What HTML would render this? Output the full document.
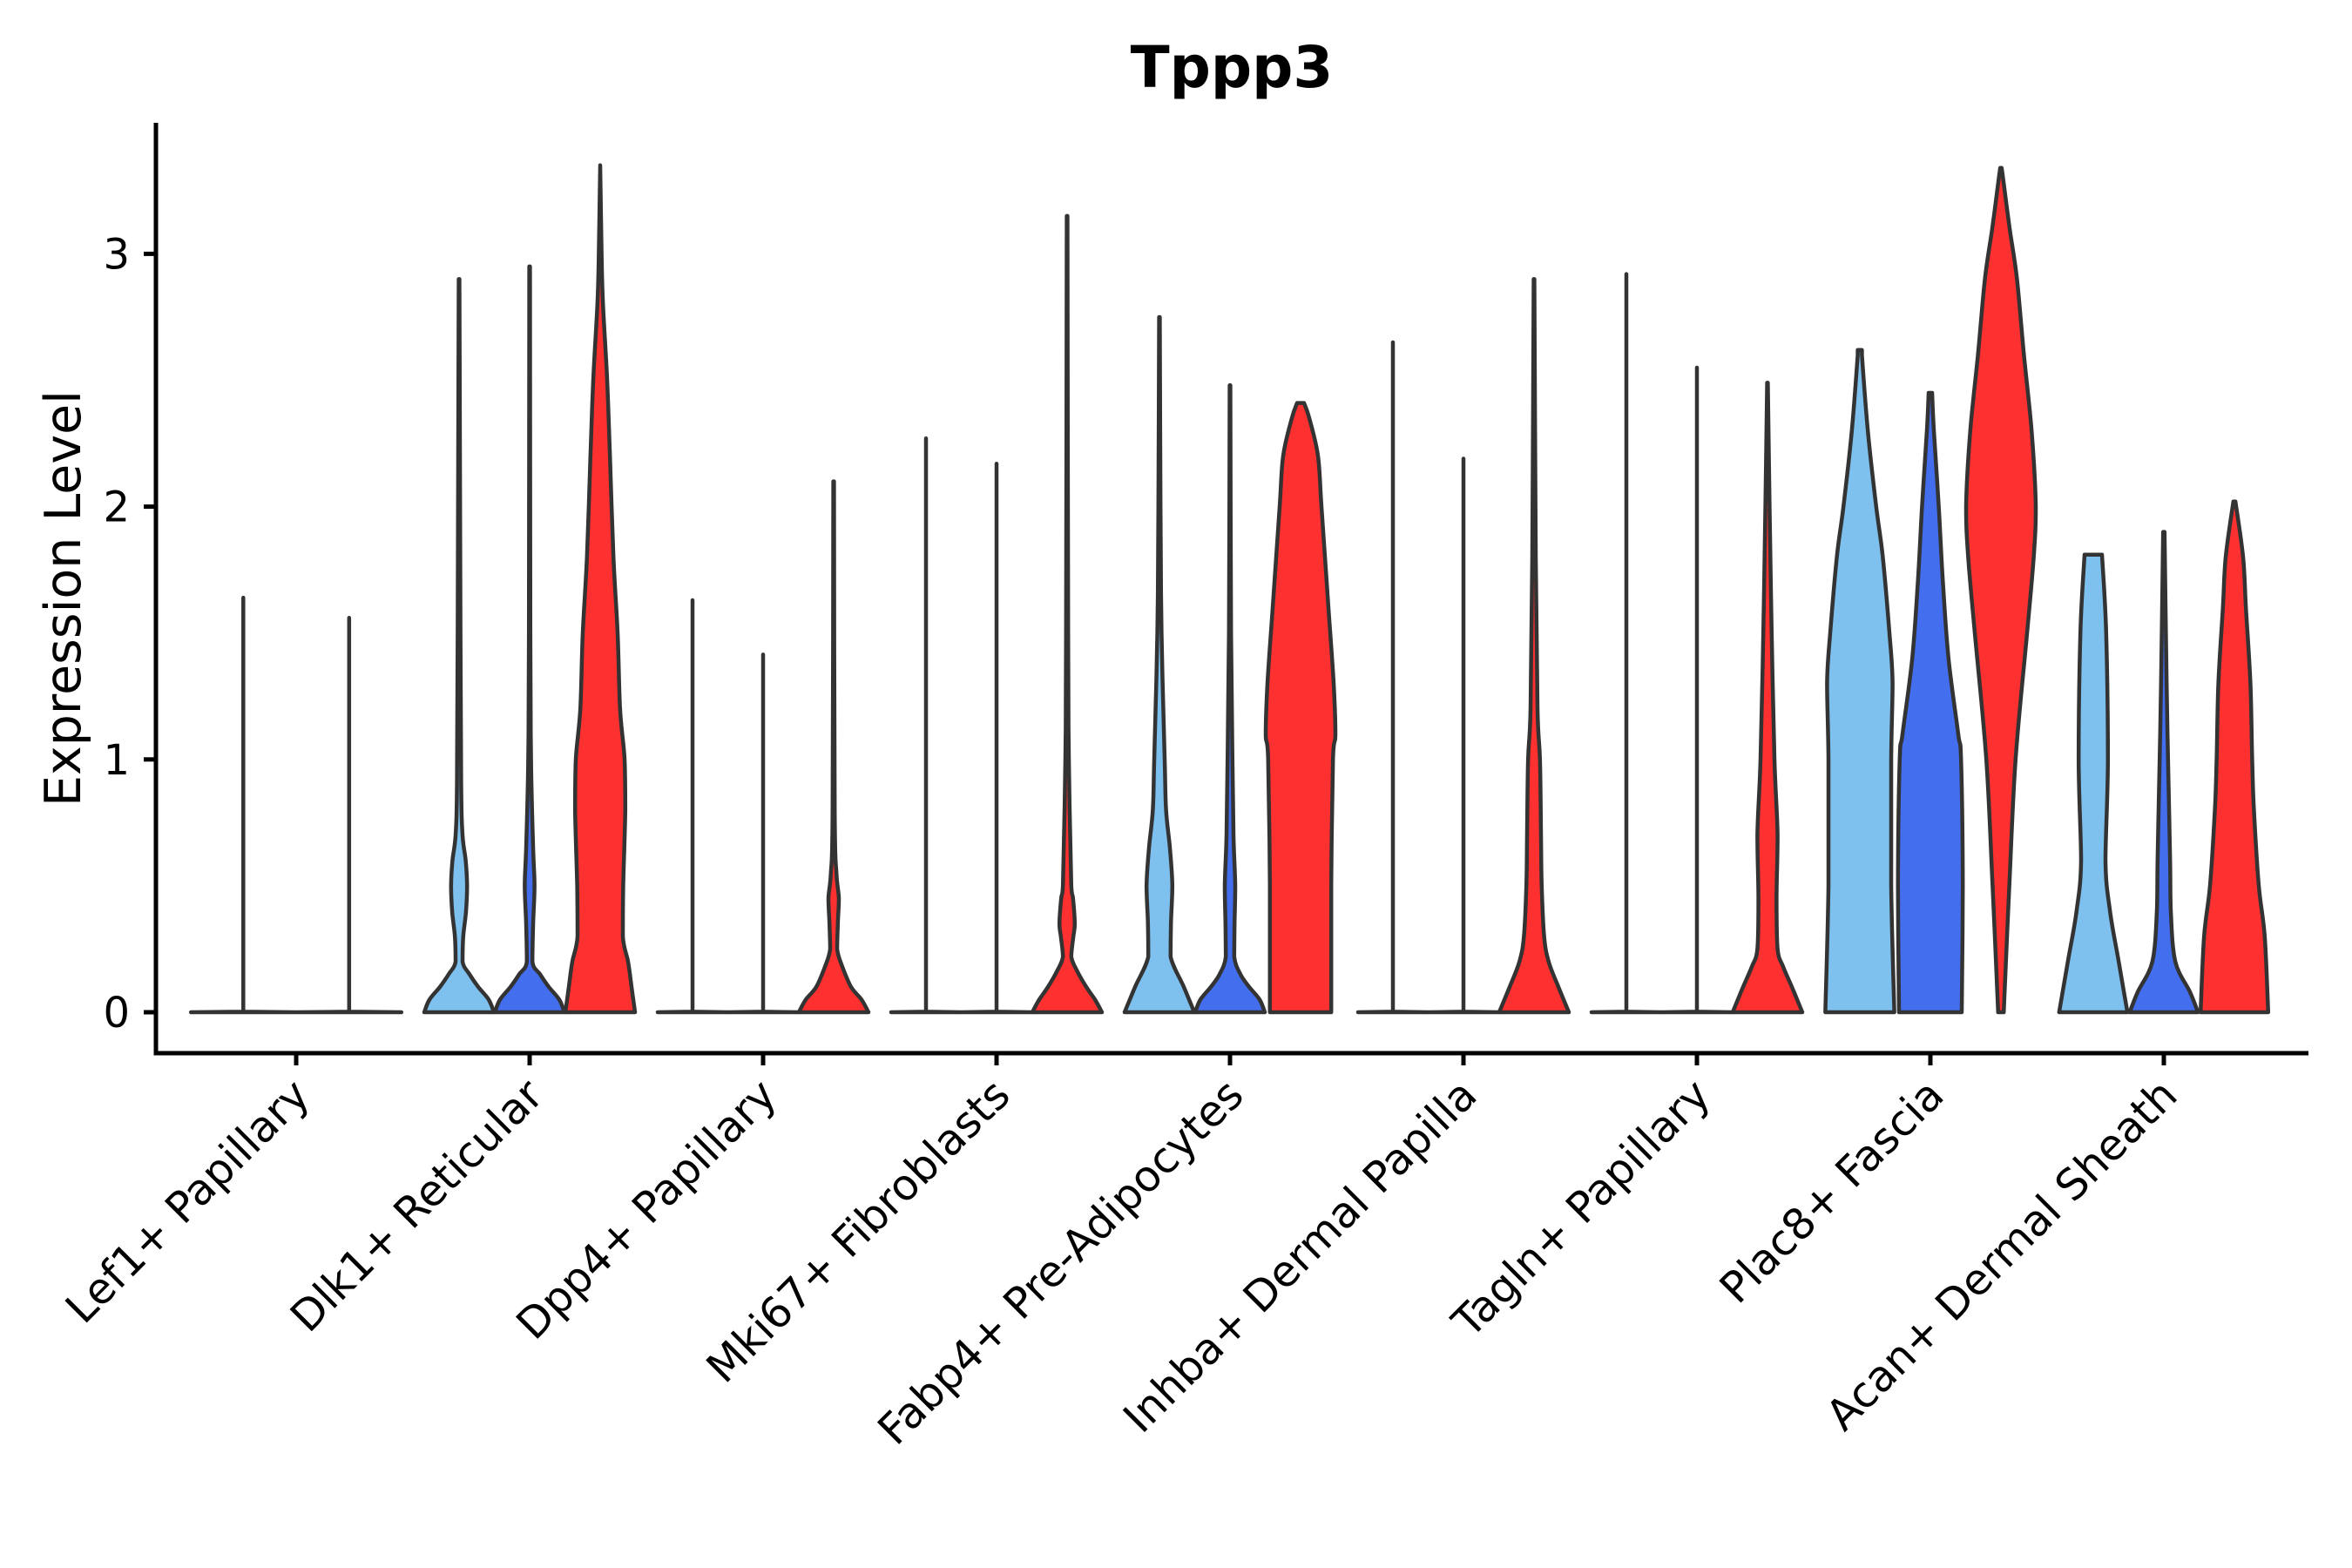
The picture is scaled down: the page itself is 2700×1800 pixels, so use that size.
<!DOCTYPE html>
<html><head><meta charset="utf-8"><style>html,body{margin:0;padding:0;background:#fff;}svg{display:block;}</style></head>
<body>
<svg id="chart" width="2700" height="1800" xmlns="http://www.w3.org/2000/svg" font-family="'DejaVu Sans','Liberation Sans',sans-serif">
<rect width="2700" height="1800" fill="#fff"/>
<g id="plot"></g>
</svg>
<script>
const categories = ["Lef1+ Papillary","Dlk1+ Reticular","Dpp4+ Papillary","Mki67+ Fibroblasts","Fabp4+ Pre-Adipocytes","Inhba+ Dermal Papilla","Tagln+ Papillary","Plac8+ Fascia","Acan+ Dermal Sheath"];
const groupsPresent = [2,3,3,3,3,3,3,3,3];
const seriesNames = ["ident-1","ident-2","ident-3"];
const seriesColors = ["#7EC0EE","#436EEE","#FF3030"];
const yTicks = [0,1,2,3];
// profiles: [value, relative half-width] per violin
const profilesLightBlue = [
  [[0,1],[0.002,0],[1.64,0]],
  [[0,1],[0.05,0.85],[0.1,0.55],[0.15,0.3],[0.2,0.1],[0.3,0.12],[0.4,0.2],[0.5,0.23],[0.6,0.19],[0.7,0.1],[0.9,0.06],[1.5,0.04],[2.9,0.01]],
  [[0,1],[0.002,0],[1.63,0]],
  [[0,1],[0.002,0],[2.27,0]],
  [[0,1],[0.1,0.7],[0.22,0.32],[0.35,0.33],[0.5,0.37],[0.65,0.3],[0.8,0.19],[1.0,0.15],[1.5,0.06],[2.0,0.03],[2.75,0.01]],
  [[0,1],[0.002,0],[2.65,0]],
  [[0,1],[0.002,0],[2.92,0]],
  [[0,0.99],[0.5,0.9],[1.0,0.9],[1.3,0.94],[1.5,0.85],[1.8,0.66],[2.0,0.47],[2.3,0.23],[2.6,0.06],[2.62,0.06]],
  [[0,0.98],[0.2,0.73],[0.4,0.48],[0.6,0.35],[1.0,0.42],[1.5,0.37],[1.81,0.25]]
];
const profilesBlue = [
  [[0,1],[0.002,0],[1.56,0]],
  [[0,1],[0.05,0.85],[0.1,0.55],[0.15,0.3],[0.2,0.08],[0.35,0.1],[0.5,0.14],[0.65,0.1],[1.0,0.04],[1.5,0.02],[2.95,0.01]],
  [[0,1],[0.002,0],[1.415,0]],
  [[0,1],[0.002,0],[2.17,0]],
  [[0,1],[0.05,0.85],[0.1,0.55],[0.15,0.3],[0.22,0.12],[0.35,0.13],[0.5,0.15],[0.7,0.1],[1.0,0.07],[1.5,0.03],[2.48,0.01]],
  [[0,1],[0.002,0],[2.19,0]],
  [[0,1],[0.002,0],[2.55,0]],
  [[0,0.9],[0.5,0.93],[1.0,0.88],[1.1,0.8],[1.4,0.52],[1.7,0.36],[2.0,0.24],[2.3,0.1],[2.45,0.05]],
  [[0,0.98],[0.08,0.75],[0.2,0.33],[0.4,0.2],[0.6,0.18],[1.0,0.12],[1.3,0.08],[1.9,0.02]]
];
const profilesRed = [
  null,
  [[0,1],[0.1,0.9],[0.2,0.8],[0.3,0.65],[0.5,0.66],[0.8,0.72],[1.0,0.7],[1.2,0.57],[1.5,0.5],[1.8,0.38],[2.2,0.28],[2.5,0.2],[2.8,0.08],[3.0,0.04],[3.35,0]],
  [[0,1],[0.05,0.8],[0.1,0.5],[0.18,0.25],[0.25,0.1],[0.35,0.12],[0.45,0.15],[0.55,0.08],[0.8,0.03],[2.1,0.01]],
  [[0,1],[0.05,0.8],[0.1,0.55],[0.16,0.3],[0.22,0.12],[0.3,0.18],[0.35,0.22],[0.45,0.17],[0.5,0.12],[1.0,0.05],[1.5,0.03],[3.15,0.01]],
  [[0,0.88],[0.5,0.88],[1.0,0.93],[1.1,1.0],[1.3,0.95],[1.6,0.8],[2.0,0.6],[2.2,0.5],[2.35,0.25],[2.41,0.1]],
  [[0,1],[0.1,0.7],[0.2,0.42],[0.3,0.29],[0.5,0.22],[0.7,0.2],[1.0,0.17],[1.2,0.1],[1.8,0.05],[2.9,0.01]],
  [[0,1],[0.1,0.7],[0.18,0.45],[0.25,0.29],[0.45,0.26],[0.7,0.29],[1.0,0.2],[1.5,0.12],[2.0,0.06],[2.49,0.01]],
  [[0,0.08],[0.5,0.24],[1.0,0.42],[1.5,0.75],[1.8,0.94],[2.0,1.0],[2.3,0.88],[2.6,0.66],[2.9,0.46],[3.1,0.25],[3.3,0.06],[3.34,0.02]],
  [[0,0.97],[0.3,0.87],[0.5,0.7],[0.8,0.56],[1.0,0.51],[1.3,0.46],[1.6,0.33],[1.8,0.25],[2.02,0.03]]
];
const allProfiles = [profilesLightBlue, profilesBlue, profilesRed];

const X0 = 179, X1 = 2650, YTOP = 141, YAX = 1209;
const Y0PX = 1162, UNIT = 290.2;
const firstCenter = 340, step = 268, groupWidth = 243;
function yScale(v){ return Y0PX - v*UNIT; }
function xScale(i){ return firstCenter + i*step; }

const NS = "http://www.w3.org/2000/svg";
const plot = document.getElementById('plot');
function mk(tag, attrs, parent){ const e = document.createElementNS(NS, tag); for (const k in attrs) e.setAttribute(k, attrs[k]); (parent||plot).appendChild(e); return e; }

function clamp(v, a, b){ const lo = Math.min(a,b), hi = Math.max(a,b); return Math.max(lo, Math.min(hi, v)); }
function smooth(pts){
  let d = '';
  for (let i = 0; i < pts.length - 1; i++){
    const p0 = pts[Math.max(0,i-1)], p1 = pts[i], p2 = pts[i+1], p3 = pts[Math.min(pts.length-1,i+2)];
    let c1 = [p1[0] + (p2[0]-p0[0])/6, p1[1] + (p2[1]-p0[1])/6];
    let c2 = [p2[0] - (p3[0]-p1[0])/6, p2[1] - (p3[1]-p1[1])/6];
    c1[1] = clamp(c1[1], p1[1], p2[1]); c2[1] = clamp(c2[1], p1[1], p2[1]);
    c1[0] = clamp(c1[0], p1[0], p2[0]); c2[0] = clamp(c2[0], p1[0], p2[0]);
    if (Math.abs(p2[1]-p1[1]) < 2) { c1 = p1.slice(); c2 = p2.slice(); }
    d += 'C' + c1[0].toFixed(1)+','+c1[1].toFixed(1)+' '+c2[0].toFixed(1)+','+c2[1].toFixed(1)+' '+p2[0].toFixed(1)+','+p2[1].toFixed(1);
  }
  return d;
}

categories.forEach((cat, ci) => {
  const g = mk('g', {});
  
  
  const n = groupsPresent[ci];
  const slot = groupWidth / n;
  const halfW = slot * 0.494;
  let k = 0;
  allProfiles.forEach((prof, si) => {
    const p = prof[ci];
    if (!p) return;
    const cx = xScale(ci) + (k - (n-1)/2) * slot;
    k++;
    const right = p.map(([v,w]) => [cx + w*halfW, yScale(v)]);
    const left = p.slice().reverse().map(([v,w]) => [cx - w*halfW, yScale(v)]);
    let d = 'M' + right[0][0].toFixed(1) + ',' + right[0][1].toFixed(1) + smooth(right);
    d += 'L' + left[0][0].toFixed(1) + ',' + left[0][1].toFixed(1) + smooth(left) + 'Z';
    const path = mk('path', {d: d, fill: seriesColors[si], stroke: '#333333', 'stroke-width': 4.5, 'stroke-linejoin': 'round'}, g);
    
    
  });
});

const axes = mk('g', {});


const ya = mk('line', {x1: X0, y1: YTOP, x2: X0, y2: YAX + 2.5, stroke: '#000', 'stroke-width': 5}, axes);


const xa = mk('line', {x1: X0 - 2.5, y1: YAX, x2: X1, y2: YAX, stroke: '#000', 'stroke-width': 5}, axes);



yTicks.forEach(t => {
  const y = yScale(t);
  const tk = mk('line', {x1: X0 - 14, y1: y, x2: X0, y2: y, stroke: '#000', 'stroke-width': 5}, axes);
  
  
  const tl = mk('text', {x: X0 - 30, y: y + 17, 'text-anchor': 'end', 'font-size': 48, fill: '#000'}, axes);
  tl.textContent = String(t);
  
  
});

categories.forEach((cat, ci) => {
  const x = xScale(ci);
  const tk = mk('line', {x1: x, y1: YAX, x2: x, y2: YAX + 14, stroke: '#000', 'stroke-width': 5}, axes);
  
  
  const ax = x + 18, ay = 1260;
  const tl = mk('text', {x: ax, y: ay, 'text-anchor': 'end', 'font-size': 49, fill: '#000', transform: 'rotate(-45 ' + ax + ' ' + ay + ')'}, axes);
  tl.textContent = cat;
  
  
});

const yt = mk('text', {x: 92, y: 687, 'text-anchor': 'middle', 'font-size': 57, fill: '#000', transform: 'rotate(-90 92 687)'});
yt.textContent = 'Expression Level';



const title = mk('text', {x: 1414, y: 100, 'text-anchor': 'middle', 'font-size': 66, 'font-weight': 'bold', fill: '#000'});
title.textContent = 'Tppp3';


</script>
</body></html>
